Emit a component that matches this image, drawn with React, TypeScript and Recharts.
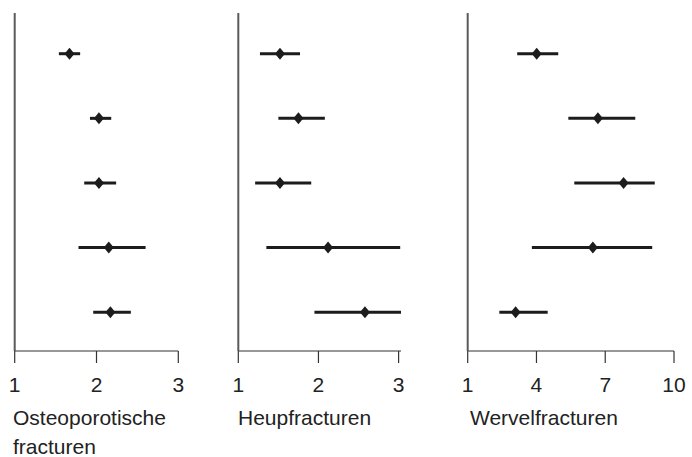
import { ScatterChart, Scatter, XAxis, YAxis, ErrorBar } from 'recharts';

// row positions, top to bottom
const rows = [1, 2, 3, 4, 5];

const osteoEst = [1.67, 2.03, 2.03, 2.15, 2.17];
const osteoLow = [1.54, 1.92, 1.85, 1.78, 1.96];
const osteoHigh = [1.8, 2.18, 2.24, 2.6, 2.42];

const heupEst = [1.52, 1.75, 1.52, 2.12, 2.58];
const heupLow = [1.27, 1.5, 1.21, 1.35, 1.95];
const heupHigh = [1.77, 2.08, 1.91, 3.02, 3.03];

const wervelEst = [4.01, 6.68, 7.8, 6.46, 3.09];
const wervelLow = [3.16, 5.39, 5.65, 3.8, 2.38];
const wervelHigh = [4.95, 8.31, 9.16, 9.05, 4.49];

const ticks13 = [1, 2, 3];
const ticks110 = [1, 4, 7, 10];

const FONT = '"Liberation Sans", Arial, sans-serif';
const INK = '#1c1c1c';

function build(est: number[], low: number[], high: number[]) {
  return rows.map((r, i) => ({
    row: r,
    est: est[i],
    err: [est[i] - low[i], high[i] - est[i]],
  }));
}

const Diamond = (props: any) => {
  const { cx, cy } = props;
  if (cx == null || cy == null) return null;
  return (
    <polygon
      points={`${cx},${cy - 6} ${cx + 5},${cy} ${cx},${cy + 6} ${cx - 5},${cy}`}
      fill={INK}
    />
  );
};

interface PanelProps {
  left: number;
  width: number;
  marginLeft: number;
  marginRight: number;
  domain: [number, number];
  ticks: number[];
  data: { row: number; est: number; err: number[] }[];
}

function Panel({ left, width, marginLeft, marginRight, domain, ticks, data }: PanelProps) {
  return (
    <div style={{ position: 'absolute', left, top: 0 }}>
      <ScatterChart
        width={width}
        height={396}
        margin={{ top: 13, right: marginRight, left: marginLeft - 4, bottom: 0 }}
      >
        <XAxis
          type="number"
          dataKey="est"
          domain={domain}
          ticks={ticks}
          interval={0}
          height={45}
          tickSize={12}
          tickMargin={14}
          axisLine={{ stroke: '#333', strokeWidth: 1.2 }}
          tickLine={{ stroke: '#333', strokeWidth: 1.2 }}
          tick={{ fontSize: 21, fill: '#222', fontFamily: FONT }}
        />
        <YAxis
          type="number"
          dataKey="row"
          domain={[0.37, 5.6]}
          reversed
          width={4}
          tick={false}
          tickLine={false}
          axisLine={{ stroke: '#5a5a5a', strokeWidth: 2 }}
        />
        <Scatter data={data} shape={<Diamond />} isAnimationActive={false}>
          <ErrorBar
            dataKey="err"
            direction="x"
            width={0}
            stroke={INK}
            strokeWidth={3}
            isAnimationActive={false}
          />
        </Scatter>
      </ScatterChart>
    </div>
  );
}

const titleStyle: React.CSSProperties = {
  position: 'absolute',
  top: 403,
  fontFamily: FONT,
  fontSize: 21,
  lineHeight: '29px',
  color: '#222',
};

export default function App() {
  return (
    <div style={{ position: 'relative', width: 692, height: 457, background: '#fff', overflow: 'hidden' }}>
      <style>{'body{margin:0}'}</style>
      <Panel
        left={0}
        width={200}
        marginLeft={14.7}
        marginRight={21.7}
        domain={[1, 3]}
        ticks={ticks13}
        data={build(osteoEst, osteoLow, osteoHigh)}
      />
      <Panel
        left={220}
        width={200}
        marginLeft={18.3}
        marginRight={19}
        domain={[1, 3]}
        ticks={ticks13}
        data={build(heupEst, heupLow, heupHigh)}
      />
      <Panel
        left={450}
        width={242}
        marginLeft={17.7}
        marginRight={18}
        domain={[1, 10]}
        ticks={ticks110}
        data={build(wervelEst, wervelLow, wervelHigh)}
      />
      <div style={{ ...titleStyle, left: 13 }}>
        Osteoporotische
        <br />
        fracturen
      </div>
      <div style={{ ...titleStyle, left: 238 }}>Heupfracturen</div>
      <div style={{ ...titleStyle, left: 470 }}>Wervelfracturen</div>
    </div>
  );
}
